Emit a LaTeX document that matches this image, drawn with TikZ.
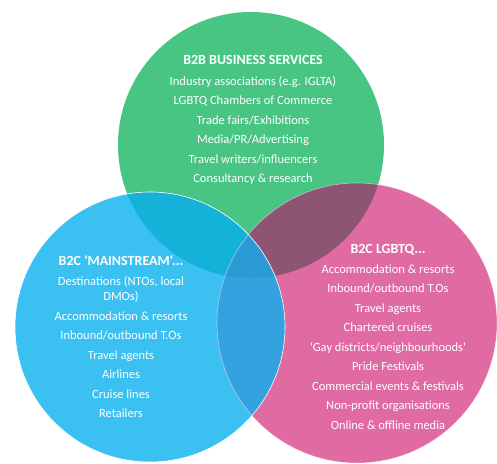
\documentclass[tikz,border=0pt]{standalone}
\usepackage{fontspec}
\setmainfont{Carlito}[Ligatures=TeXOff]

\definecolor{bbgreen}{HTML}{48C483}
\definecolor{mainblue}{HTML}{3AC1F1}
\definecolor{lgbtpink}{HTML}{E06BA3}
\definecolor{greenblue}{HTML}{14B2D8}
\definecolor{greenpink}{HTML}{8D5572}
\definecolor{bluepink}{HTML}{33A2DF}
\definecolor{allthree}{HTML}{2A9BD5}

\newcommand{\settitle}[1]{{\fontsize{14}{15}\selectfont\bfseries #1}}

\begin{document}
\begin{tikzpicture}[x=1pt,y=-1pt,
    circlist/.style={anchor=north, align=center, text=white, inner sep=0pt,
      font=\fontsize{12.5}{15}\selectfont}]
            \useasboundingbox (0,0) rectangle (497,463);

            % the three sets
            \coordinate (gc) at (251,145);
            \coordinate (bc) at (150,327);
            \coordinate (pc) at (357,323);
            \def\gr{133} \def\br{135} \def\pr{140}

            \fill[bbgreen] (gc) circle [radius=\gr];
            \fill[mainblue] (bc) circle [radius=\br];
            \fill[lgbtpink] (pc) circle [radius=\pr];

            % overlaps
            \begin{scope}
              \clip (gc) circle [radius=\gr];
              \fill[greenblue] (bc) circle [radius=\br];
              \fill[greenpink] (pc) circle [radius=\pr];
            \end{scope}
            \begin{scope}
              \clip (bc) circle [radius=\br];
              \fill[bluepink] (pc) circle [radius=\pr];
              \clip (gc) circle [radius=\gr];
              \fill[allthree] (pc) circle [radius=\pr];
            \end{scope}

            \draw[white, opacity=0.5, line width=0.6pt] (pc) circle [radius=\pr];
            \draw[white, line width=0.6pt] (bc) circle [radius=\br];

            \node[circlist] (b2b) at (253,55.5) {\settitle{B2B BUSINESS SERVICES}\\[5.5pt]
              Industry associations (e.g. IGLTA)\\[4.5pt]
              LGBTQ Chambers of Commerce\\[4.5pt]
              Trade fairs/Exhibitions\\[4.5pt]
              Media/PR/Advertising\\[4.5pt]
              Travel writers/influencers\\[4.5pt]
              Consultancy \& research};

            \node[circlist] (mainstream) at (121,255.5) {\settitle{B2C 'MAINSTREAM'...}\\[5.5pt]
              Destinations (NTOs, local\\
              DMOs)\\[4.5pt]
              Accommodation \& resorts\\[4.5pt]
              Inbound/outbound T.Os\\[4.5pt]
              Travel agents\\[4.5pt]
              Airlines\\[4.5pt]
              Cruise lines\\[4.5pt]
              Retailers};

            \node[circlist] (lgbtq) at (388,244.5) {\settitle{B2C LGBTQ...}\\[4.5pt]
              Accommodation \& resorts\\[4.5pt]
              Inbound/outbound T.Os\\[4.5pt]
              Travel agents\\[4.5pt]
              Chartered cruises\\[4.5pt]
              'Gay districts/neighbourhoods'\\[4.5pt]
              Pride Festivals\\[4.5pt]
              Commercial events \& festivals\\[4.5pt]
              Non-profit organisations\\[4.5pt]
              Online \& offline media};
        \end{tikzpicture}
\end{document}
